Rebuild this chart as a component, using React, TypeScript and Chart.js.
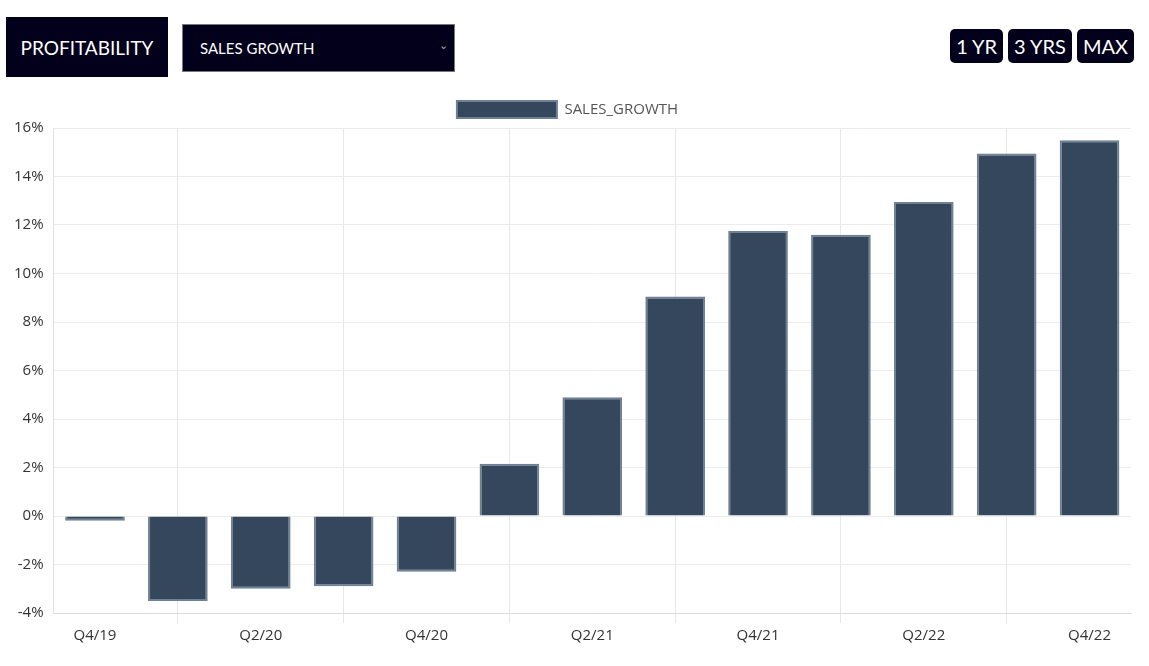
import React, { useEffect, useRef } from "react";
import { Chart, registerables } from "chart.js";

Chart.register(...registerables);

const categories = ["Q4/19", "Q1/20", "Q2/20", "Q3/20", "Q4/20", "Q1/21", "Q2/21", "Q3/21", "Q4/21", "Q1/22", "Q2/22", "Q3/22", "Q4/22"];
const salesGrowth = [-0.2, -3.5, -3.0, -2.9, -2.3, 2.15, 4.9, 9.05, 11.75, 11.6, 12.95, 14.95, 15.5];
const seriesLabel = "SALES_GROWTH";
const yMin = -4;
const yMax = 16;
const yStep = 2;
const rangeButtons = ["1 YR", "3 YRS", "MAX"];

const FONT = "'Open Sans', Lato, sans-serif";

function SalesChart() {
  const ref = useRef<HTMLCanvasElement | null>(null);
  useEffect(() => {
    if (!ref.current) return;
    const chart = new Chart(ref.current, {
      type: "bar",
      data: {
        labels: categories,
        datasets: [
          {
            label: seriesLabel,
            data: salesGrowth,
            backgroundColor: "rgba(44,64,86,0.96)",
            borderColor: "#6f8193",
            borderWidth: 2,
          },
        ],
      },
      options: {
        animation: false,
        responsive: true,
        maintainAspectRatio: false,
        layout: { padding: { left: 4, right: 18, top: 3, bottom: 0 } },
        plugins: {
          legend: {
            display: true,
            labels: {
              boxWidth: 100,
              boxHeight: 17,
              color: "#555",
              font: { family: FONT, size: 15 },
              padding: 10,
            },
          },
          tooltip: { enabled: false },
        },
        scales: {
          x: {
            grid: {
              offset: false,
              color: (ctx: any) => (ctx.index % 2 === 1 ? "#e8e8e8" : "rgba(0,0,0,0)"),
              tickLength: 10,
            },
            border: { display: true, color: "#dcdcdc" },
            ticks: {
              autoSkip: false,
              maxRotation: 0,
              color: "#333",
              font: { family: FONT, size: 15 },
              padding: 4,
              callback: (_v: any, i: number) => (i % 2 === 0 ? categories[i] : ""),
            },
          },
          y: {
            min: yMin,
            max: yMax,
            grid: { color: "#ececec", drawTicks: false },
            border: { display: true, color: "#e2e2e2" },
            ticks: {
              stepSize: yStep,
              color: "#333",
              font: { family: FONT, size: 15 },
              padding: 10,
              callback: (v: any) => `${v}%`,
            },
          },
        },
      },
    });
    return () => chart.destroy();
  }, []);
  return <canvas ref={ref} />;
}

export default function App() {
  const dark = "#02001a";
  return (
    <div style={{ position: "fixed", left: 0, top: 0, width: 1149, height: 666, background: "#fff", fontFamily: FONT }}>
      <div
        style={{
          position: "absolute",
          left: 6,
          top: 17,
          width: 162,
          height: 60,
          background: dark,
          color: "#fff",
          fontFamily: "Lato, sans-serif",
          fontSize: 19,
          display: "flex",
          alignItems: "center",
          justifyContent: "center",
        }}
      >
        PROFITABILITY
      </div>
      <div
        style={{
          position: "absolute",
          left: 182,
          top: 24,
          width: 273,
          height: 48,
          background: dark,
          border: "1px solid #777",
          color: "#fff",
          fontFamily: "Lato, sans-serif",
          fontSize: 15,
          display: "flex",
          alignItems: "center",
          paddingLeft: 17,
          boxSizing: "border-box",
        }}
      >
        SALES GROWTH
        <span style={{ position: "absolute", right: 6, top: 13, fontSize: 11, color: "#aaa" }}>⌄</span>
      </div>
      <div style={{ position: "absolute", right: 15, top: 29, display: "flex", gap: 5 }}>
        {rangeButtons.map((b) => (
          <div
            key={b}
            style={{
              background: dark,
              color: "#fff",
              borderRadius: 5,
              height: 34,
              padding: "0 6px",
              fontFamily: "Lato, sans-serif",
              fontSize: 20,
              display: "flex",
              alignItems: "center",
            }}
          >
            {b}
          </div>
        ))}
      </div>
      <div style={{ position: "absolute", left: 0, top: 88, width: 1149, height: 561 }}>
        <SalesChart />
      </div>
    </div>
  );
}
